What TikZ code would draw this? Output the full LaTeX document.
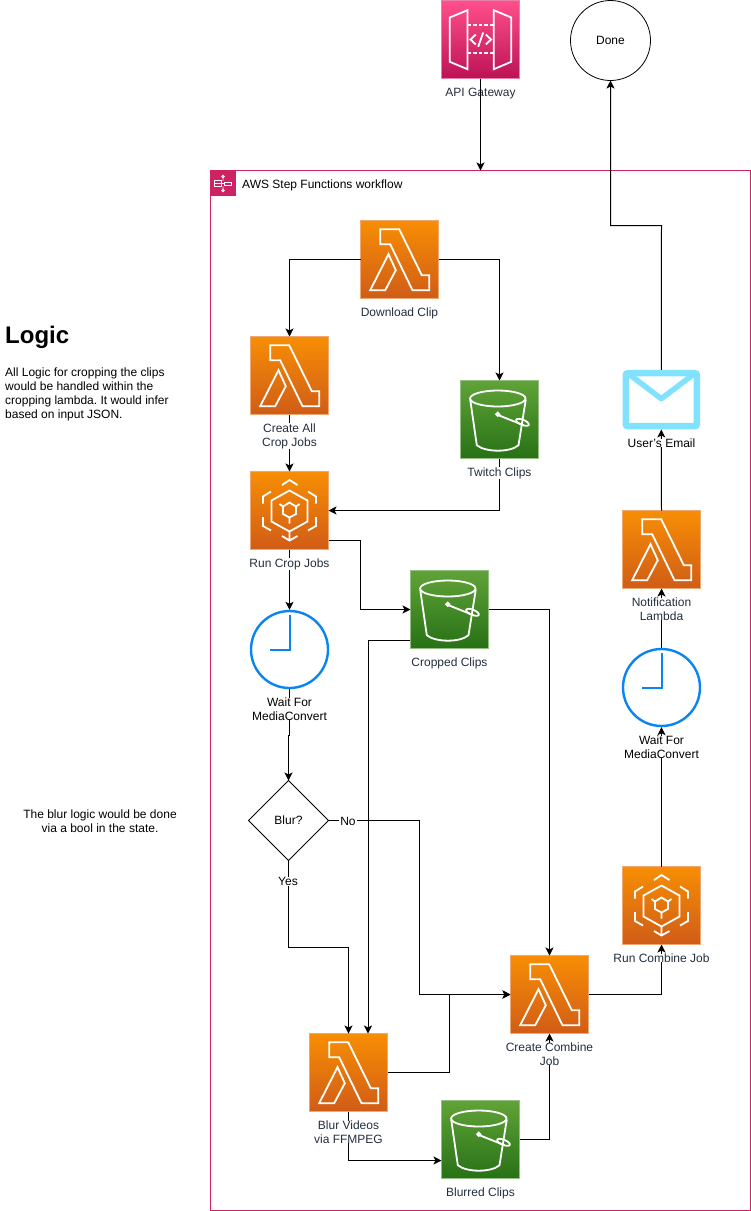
\documentclass[tikz,border=0pt]{standalone}
\usepackage{fontspec}
\setmainfont{Liberation Sans}
\usetikzlibrary{arrows.meta,shapes.geometric,calc}
\definecolor{lblc}{HTML}{232F3E}
\definecolor{wfc}{HTML}{CD2264}
\definecolor{clk}{HTML}{0A84F0}
\definecolor{mail}{HTML}{81E2FF}
\definecolor{lt}{HTML}{F78E04}
\definecolor{lb}{HTML}{D05C17}
\definecolor{ld}{HTML}{EFA774}
\definecolor{st}{HTML}{60A337}
\definecolor{sb}{HTML}{277116}
\definecolor{sd}{HTML}{94BE84}
\definecolor{at}{HTML}{FF4F8B}
\definecolor{ab}{HTML}{BC1356}
\definecolor{ad}{HTML}{E87FA6}
\frenchspacing
\tikzset{
  x=1pt,y=-1pt,
  awsicon/.style={minimum size=78pt,inner sep=0pt,outer sep=0pt,line width=0.8pt},
  lambdaicon/.style={awsicon,draw=ld,top color=lt,bottom color=lb},
  bucketicon/.style={awsicon,draw=sd,top color=st,bottom color=sb},
  apiicon/.style={awsicon,draw=ad,top color=at,bottom color=ab},
  glyph/.style={draw=white,line width=1.8pt,line join=miter,fill=none},
  conn/.style={draw=black,line width=1pt,-{Stealth[length=8pt,width=8pt,inset=2pt]}},
  conntail/.style={draw=black,line width=1pt},
  lbl/.style={font=\fontsize{12}{14}\selectfont,text=lblc,align=center,inner xsep=1pt,inner ysep=0pt,fill=white},
  txt/.style={font=\fontsize{12}{14}\selectfont,text=black,align=center,inner xsep=1pt,inner ysep=0pt},
  clockface/.style={circle,draw=clk,line width=2.4pt,minimum size=77pt,inner sep=0pt,outer sep=1.2pt,fill=white},
}
\newcommand{\lambdaglyph}[1]{\begin{scope}[shift={(#1)}]
 \draw[glyph] (-19.3,-30.3)--(-0.3,-30.3)--(22.3,15.7)--(29.7,15.7)--(29.7,30.7)--(13,30.7)--(-9.3,-15.3)--(-19.3,-15.3)--cycle;
 \draw[glyph] (-11,-5.3)--(-3.7,10.7)--(-14.3,30.7)--(-29.3,30.7)--cycle;
\end{scope}}
\newcommand{\bucketglyph}[1]{\begin{scope}[shift={(#1)}]
 \draw[glyph] (-1.7,-21) ellipse [x radius=27.7,y radius=8];
 \draw[glyph] (-29.3,-20)--(-22.7,25.7) .. controls (-14,33) and (11,33) .. (19,25.7)--(26.3,-20);
 \draw[glyph,fill=white] (-1.7,-5.3) circle [radius=1.6];
 \draw[glyph] (-1,-4.3)--(24,5.7);
 \draw[glyph,rotate around={-22:(23,2.8)}] (23,2.8) ellipse [x radius=6.8,y radius=2.6];
\end{scope}}
\newcommand{\mcglyph}[1]{\begin{scope}[shift={(#1)}]
 \draw[glyph] (0,-20)--(18,-10)--(18,11)--(0,21)--(-18,11)--(-18,-10)--cycle;
 \draw[glyph] (0,-8)--(6.5,-4)--(6.5,3.5)--(0,7)--(-6.5,3.5)--(-6.5,-4)--cycle;
 \draw[glyph] (-6.5,-4)--(-10,-6.5) (6.5,-4)--(10,-6.5) (0,7)--(0,13);
 \draw[glyph] (-7.5,-25.5)--(0,-30.5)--(8,-25.5);
 \draw[glyph] (-18.5,-19)--(-26.5,-14)--(-26.5,-7);
 \draw[glyph] (18.5,-19)--(26.5,-14)--(26.5,-7);
 \draw[glyph] (-26.5,6.5)--(-26.5,15.5)--(-18.5,20);
 \draw[glyph] (26.5,6.5)--(26.5,15.5)--(18.5,20);
 \draw[glyph] (0,21)--(0,30) (-7.5,25.5)--(0,30)--(8,25.5);
\end{scope}}
\newcommand{\clockglyph}[1]{\begin{scope}[shift={(#1)}]
 \draw[draw=clk,line width=2pt] (0,-34.5)--(0,0)--(-20,0);
\end{scope}}
\begin{document}
\begin{tikzpicture}
\useasboundingbox (0,0) rectangle (751,1211);
% container
\node[draw=wfc,line width=0.8pt,minimum width=540pt,minimum height=1040pt,inner sep=0pt,outer sep=0pt] (wf) at (480.5,690.5) {};
\node[fill=wfc,minimum size=25pt,inner sep=0pt,outer sep=0pt] (wficon) at (223,183) {};
\begin{scope}[shift={(wficon)},line width=0.8pt]
 \draw[white] (0,-6.5) circle [radius=1.3] (0,7.5) circle [radius=1.3] (0,-5)--(0,-2.5) (0,3.5)--(0,6);
 \draw[white] (-8.5,-3) rectangle (-2,3.5) (-8.5,0)--(-2,0);
 \draw[white] (1,-1) rectangle (8.5,2);
 \draw[white] (-2,0.5)--(1,0.5);
\end{scope}
\node[txt,anchor=west] (wflabel) at (241,185) {AWS Step Functions workflow};
% icons
\node[apiicon] (gw) at (480.5,39.5) {};
\node[draw=black,line width=0.8pt,circle,minimum size=80pt,inner sep=0pt,outer sep=0pt] (done) at (610.5,40.5) {\fontsize{12}{14}\selectfont Done};
\node[lambdaicon] (dl) at (399.5,259.5) {};
\node[lambdaicon] (ca) at (289.5,375.5) {};
\node[lambdaicon] (rc) at (289.5,510.5) {};
\node[bucketicon] (tw) at (499.5,419.5) {};
\node[bucketicon] (cr) at (449.5,609.5) {};
\node[clockface] (c1) at (289.5,649.5) {};
\node[draw=black,line width=0.8pt,diamond,aspect=1,minimum size=80pt,inner sep=0pt,outer sep=0pt] (bq) at (288.5,820.5) {\fontsize{12}{14}\selectfont Blur?};
\node[lambdaicon] (bv) at (348.5,1072.5) {};
\node[bucketicon] (bl) at (480.5,1139.5) {};
\node[lambdaicon] (cc) at (549.5,994.5) {};
\node[lambdaicon] (rj) at (661.5,905.5) {};
\node[clockface] (c2) at (661.5,687.5) {};
\node[lambdaicon] (nl) at (661.5,549.5) {};
\node[draw=mail,line width=6.5pt,rounded corners=2pt,minimum width=71pt,minimum height=53pt,inner sep=0pt,outer sep=3.25pt] (em) at (661.3,399.7) {};
% connectors
\draw[conn] (rc.south) -- (c1.north);
\draw[conn] (ca.south) -- (rc.north);
\draw[conn] (dl.west) -| (ca.north);
\draw[conn] (dl.east) -| (tw.north);
\draw[conn] (tw.south) |- (rc.east);
\coordinate (rca) at (329,540.5);
\draw[conn] (rca) -- (360.5,540.5) -- (360.5,609.5) -- (cr.west);
\coordinate (cra) at (410,640.5);
\draw[conn] (cra) -| (368,0 |- bv.north);
\draw[conn] (cr.east) -| (cc.north);
\draw[conntail] (c1.south) -- (289.5,735) -- (288.5,735);
\draw[conn] (288.5,735) -- (bq.north);
\draw[conn] (bq.east) -- (419.5,820.5) -- (419.5,994.5) -- (cc.west);
\draw[conn] (bq.south) -- (288.5,947) -- (348.5,947) -- (bv.north);
\draw[conn] (bv.east) -| (449.5,994.5) -- (cc.west);
\draw[conn] (bv.south) |- (bl.west |- 0,1160.5);
\draw[conn] (bl.east) -| (cc.south);
\draw[conn] (cc.east) -| (rj.south);
\draw[conn] (rj.north) -- (c2.south);
\draw[conn] (c2.north) -- (nl.south);
\draw[conn] (nl.north) -- (em.south);
\draw[conn] (em.north) -- (661.5,225.5) -- (610.5,225.5) -- (done.south);
% glyphs
\begin{scope}[shift={(gw)}]
 \draw[glyph] (-13,-29.3)--(-30.7,-22)--(-30.7,22.3)--(-13,29.7)--cycle;
 \draw[glyph] (13.3,-29.3)--(30.7,-22)--(30.7,22.3)--(13.3,29.7)--cycle;
 \draw[glyph,dash pattern=on 3.5pt off 2pt] (-13,-14.3)--(13.3,-14.3);
 \draw[glyph,dash pattern=on 3.5pt off 2pt] (-13,13.3)--(13.3,13.3);
 \draw[glyph] (-4.7,-5)--(-10,0)--(-4.7,5) (5.3,-5)--(10.6,0)--(5.3,5) (2.7,-7)--(-2.3,7.3);
\end{scope}
\lambdaglyph{dl}\lambdaglyph{ca}\lambdaglyph{bv}\lambdaglyph{cc}\lambdaglyph{nl}
\mcglyph{rc}\mcglyph{rj}
\bucketglyph{tw}\bucketglyph{cr}\bucketglyph{bl}
\clockglyph{c1}\clockglyph{c2}
\draw[mail,line width=5.5pt,line join=round] ($(em.center)+(-33,-26)$) -- ($(em.center)+(0,-1)$) -- ($(em.center)+(33,-26)$);
% labels
\node[lbl,fill=none] (lgw) at (480.5,94) {API Gateway};
\draw[conn] (gw.south) -- (gw.south |- wf.north);
\node[lbl] (ldl) at (399.5,313) {Download Clip};
\node[lbl] (lca) at (289.5,436) {Create All\\Crop Jobs};
\node[lbl] (ltw) at (499.5,473) {Twitch Clips};
\node[lbl] (lrc) at (289.5,564) {Run Crop Jobs};
\node[lbl] (lcr) at (449.5,663) {Cropped Clips};
\node[txt,fill=white] (lc1) at (289.5,709) {Wait For\\MediaConvert};
\node[txt,fill=white] (lno) at (348,821.5) {No};
\node[txt,fill=white] (lyes) at (288,881.5) {Yes};
\node[lbl] (lbv) at (348.5,1132) {Blur Videos\\via FFMPEG};
\node[lbl] (lbl) at (480.5,1193) {Blurred Clips};
\node[lbl] (lcc) at (549.5,1054) {Create Combine\\Job};
\node[lbl] (lrj) at (661.5,958) {Run Combine Job};
\node[txt,fill=white] (lc2) at (661.5,747) {Wait For\\MediaConvert};
\node[lbl] (lnl) at (661.5,609) {Notification\\Lambda};
\node[txt,fill=white] (lem) at (661.5,443) {User's Email};
% text
\node[anchor=west,font=\bfseries\fontsize{24}{28}\selectfont,inner sep=0pt] (logic) at (5,337) {Logic};
\node[anchor=north west,align=left,font=\fontsize{12}{14}\selectfont,inner sep=0pt] (logictext) at (5,368) {All Logic for cropping the clips\\would be handled within the\\cropping lambda. It would infer\\based on input JSON.};
\node[txt] (blurnote) at (100,821.5) {The blur logic would be done\\via a bool in the state.};
\end{tikzpicture}
\end{document}
